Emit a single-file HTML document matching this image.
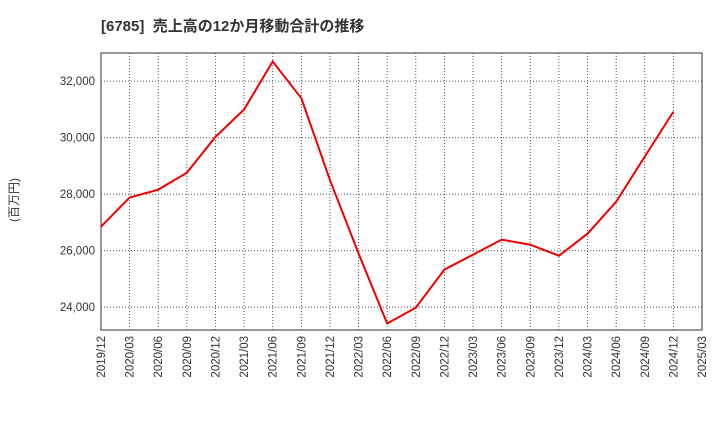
<!DOCTYPE html>
<html><head><meta charset="utf-8"><style>
body{margin:0;background:#fff;font-family:"Liberation Sans","Noto Sans CJK JP",sans-serif;}
</style></head><body>
<svg id="c" width="720" height="440" xmlns="http://www.w3.org/2000/svg">
<text x="101" y="31" font-size="15" font-weight="bold" fill="#333" font-family="Liberation Sans, Noto Sans CJK JP, sans-serif">[6785]&#160; 売上高の12か月移動合計の推移</text>
<text transform="translate(18,200) rotate(-90)" font-size="12" fill="#333" text-anchor="middle" font-family="Liberation Sans, Noto Sans CJK JP, sans-serif">(百万円)</text>
<g id="grid"></g><g id="axes"></g><g id="series"></g>
</svg>
<script>
const categories=["2019/12","2020/03","2020/06","2020/09","2020/12","2021/03","2021/06","2021/09","2021/12","2022/03","2022/06","2022/09","2022/12","2023/03","2023/06","2023/09","2023/12","2024/03","2024/06","2024/09","2024/12","2025/03"];
const values=[26850,27880,28160,28760,30030,31000,32700,31400,28500,25900,23420,23980,25330,25860,26390,26210,25820,26600,27730,29330,30920];
const yTicks=[24000,26000,28000,30000,32000];
const yTickLabels=["24,000","26,000","28,000","30,000","32,000"];
const NS="http://www.w3.org/2000/svg";
const L=101,R=702,T=53,B=330,yMin=23190,yMax=33000;
const x=i=>L+(R-L)*i/(categories.length-1);
const y=v=>B-(v-yMin)/(yMax-yMin)*(B-T);
function mk(tag,attrs,parent){const e=document.createElementNS(NS,tag);for(const k in attrs)e.setAttribute(k,attrs[k]);document.getElementById(parent).appendChild(e);return e;}
categories.forEach((c,i)=>{
 if(i>0&&i<categories.length-1){const g=mk('line',{x1:x(i),x2:x(i),y1:T,y2:B,stroke:'#444','stroke-dasharray':'1,2','stroke-width':0.9},'grid');
 
 }
 const t=mk('text',{transform:`translate(${x(i)+4},${B+6}) rotate(-90)`,'font-size':11.5,fill:'#333','text-anchor':'end'},'axes');
 t.textContent=c;
 
 
});
yTicks.forEach((v,i)=>{
 const g=mk('line',{x1:L,x2:R,y1:y(v),y2:y(v),stroke:'#444','stroke-dasharray':'1,2','stroke-width':0.9},'grid');
 
 
 const t=mk('text',{x:L-6,y:y(v)+4,'font-size':11.5,fill:'#333','text-anchor':'end'},'axes');
 t.textContent=yTickLabels[i];
 
 
});
const f=mk('rect',{x:L,y:T,width:R-L,height:B-T,fill:'none',stroke:'#333','stroke-width':1},'axes');


const p=mk('polyline',{points:values.map((v,i)=>x(i)+','+y(v)).join(' '),fill:'none',stroke:'#e00','stroke-width':2},'series');


</script>
</body></html>
